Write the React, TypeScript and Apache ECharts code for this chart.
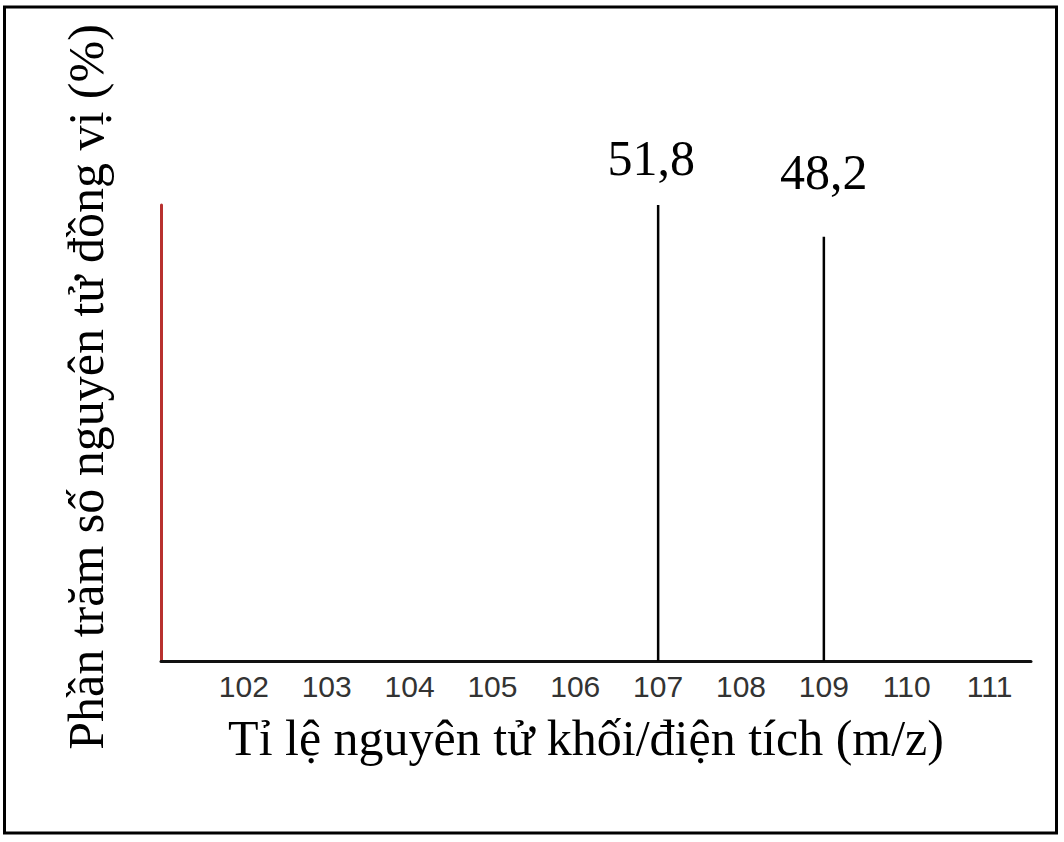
import React, { useEffect, useRef } from 'react';
import * as echarts from 'echarts';

// m/z of the two isotopes and their abundance (%)
const massNumbers = [107, 109];
const abundances = [51.8, 48.2];
const peakLabels = ['51,8', '48,2'];
const tickValues = [102, 103, 104, 105, 106, 107, 108, 109, 110, 111];

const xTitle = 'Tỉ lệ nguyên tử khối/điện tích (m/z)';
const yTitle = 'Phần trăm số nguyên tử đồng vị (%)';

const serif = '"Liberation Serif", "DejaVu Serif", serif';

const App = () => {
  const chartRef = useRef(null);

  useEffect(() => {
    if (!chartRef.current) return;
    const chart = echarts.init(chartRef.current, null, { renderer: 'svg' });

    // per-peak label placement
    const labelTweaks = [
      { distance: 22, offset: [-7, 0] },
      { distance: 40, offset: [0, 0] },
    ];

    const option = {
      animation: false,
      backgroundColor: '#ffffff',
      grid: { left: 161, right: 33, top: 205, bottom: 181 },
      xAxis: {
        type: 'value',
        min: 101,
        max: 111.5,
        interval: 1,
        name: xTitle,
        nameLocation: 'middle',
        nameGap: 52,
        nameTextStyle: {
          fontFamily: serif,
          fontSize: 50,
          color: '#000',
          padding: [0, 20, 0, 0],
        },
        axisLine: { show: true, onZero: false, lineStyle: { color: '#111', width: 3 } },
        axisTick: { show: false },
        splitLine: { show: false },
        axisLabel: {
          margin: 10,
          fontFamily: '"Liberation Sans", Arial, sans-serif',
          fontSize: 30,
          color: '#333',
          formatter: (v) => (tickValues.includes(v) ? String(v) : ''),
        },
      },
      yAxis: {
        type: 'value',
        min: 0,
        max: 51.8,
        name: yTitle,
        nameLocation: 'middle',
        nameGap: 50,
        nameRotate: 90,
        nameTextStyle: {
          fontFamily: serif,
          fontSize: 50,
          color: '#000',
          padding: [0, 0, 0, 92],
        },
        axisLine: { show: true, lineStyle: { color: '#b8312f', width: 3 } },
        axisTick: { show: false },
        axisLabel: { show: false },
        splitLine: { show: false },
      },
      series: [
        {
          type: 'bar',
          barWidth: 2.5,
          itemStyle: { color: '#000' },
          data: massNumbers.map((m, i) => ({
            value: [m, abundances[i]],
            label: {
              show: true,
              position: 'top',
              distance: labelTweaks[i].distance,
              offset: labelTweaks[i].offset,
              formatter: peakLabels[i],
              fontFamily: serif,
              fontSize: 50,
              color: '#000',
            },
          })),
        },
      ],
      graphic: [
        {
          type: 'rect',
          shape: { x: 4.5, y: 7, width: 1052, height: 826 },
          style: { fill: 'none', stroke: '#000', lineWidth: 3 },
          silent: true,
        },
      ],
    };

    chart.setOption(option);

    return () => {
      chart.dispose();
    };
  }, []);

  return (
    <div
      ref={chartRef}
      style={{ position: 'fixed', left: 0, top: 0, width: 1064, height: 842 }}
    />
  );
};

export default App;
